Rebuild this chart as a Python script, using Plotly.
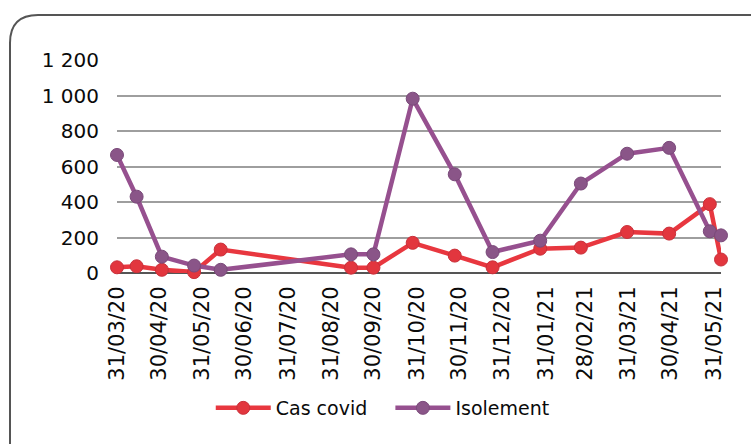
import plotly.graph_objects as go

# ---- data ----
dates = ["2020-03-31", "2020-04-14", "2020-05-02", "2020-05-25", "2020-06-13",
         "2020-09-14", "2020-09-30", "2020-10-28", "2020-11-27", "2020-12-24",
         "2021-01-27", "2021-02-25", "2021-03-30", "2021-04-29", "2021-05-28",
         "2021-06-05"]
cas_covid = [32, 38, 18, 5, 132, 30, 30, 170, 98, 32, 137, 143, 231, 222, 388, 76]
isolement = [665, 430, 92, 42, 18, 105, 105, 982, 556, 118, 182, 504, 672, 705, 235, 212]

tick_dates = ["2020-03-31", "2020-04-30", "2020-05-31", "2020-06-30", "2020-07-31",
              "2020-08-31", "2020-09-30", "2020-10-31", "2020-11-30", "2020-12-31",
              "2021-01-31", "2021-02-28", "2021-03-31", "2021-04-30", "2021-05-31"]
tick_labels = ["31/03/20", "30/04/20", "31/05/20", "30/06/20", "31/07/20",
               "31/08/20", "30/09/20", "31/10/20", "30/11/20", "31/12/20",
               "31/01/21", "28/02/21", "31/03/21", "30/04/21", "31/05/21"]
y_ticks = [0, 200, 400, 600, 800, 1000, 1200]
y_labels = ["0", "200", "400", "600", "800", "1 000", "1 200"]

# ---- layout geometry (pixels) ----
W, H = 751, 444
L, R, T, B = 117, 30, 60, 171
pw, ph = W - L - R, H - T - B


def px(x):
    return (x - L) / pw


def py(y):
    return (H - B - y) / ph


fig = go.Figure()
fig.add_trace(go.Scatter(
    x=dates, y=cas_covid, name="Cas covid\u00a0\u00a0\u00a0", mode="lines+markers",
    line=dict(color="#E8373F", width=4.5),
    marker=dict(color="#E2363E", size=13, line=dict(color="#C9303A", width=1)),
    cliponaxis=False,
))
fig.add_trace(go.Scatter(
    x=dates, y=isolement, name="Isolement", mode="lines+markers",
    line=dict(color="#96508F", width=4.5),
    marker=dict(color="#8A5588", size=13, line=dict(color="#7A4A7A", width=1)),
    cliponaxis=False,
))

r = 28
frame = (f"M {px(10)},{py(460)} L {px(10)},{py(15 + r)} "
         f"Q {px(10)},{py(15)} {px(10 + r)},{py(15)} L {px(780)},{py(15)}")

fig.update_layout(
    width=W, height=H,
    margin=dict(l=L, r=R, t=T, b=B),
    paper_bgcolor="white", plot_bgcolor="white",
    font=dict(family="DejaVu Sans", color="#0A0A0A"),
    showlegend=True,
    legend=dict(orientation="h", x=0.44, xanchor="center", y=py(408), yanchor="middle",
                font=dict(size=19, color="#0A0A0A"), itemwidth=55,
                bgcolor="rgba(0,0,0,0)"),
    xaxis=dict(type="date", range=["2020-03-31", "2021-06-05"],
               tickvals=tick_dates, ticktext=tick_labels, tickangle=-90,
               tickfont=dict(size=21), showgrid=False, zeroline=False,
               showline=False, ticks="outside", ticklen=4, tickcolor="rgba(0,0,0,0)"),
    yaxis=dict(range=[0, 1200], tickvals=y_ticks, ticktext=y_labels,
               tickfont=dict(size=20), showgrid=True, gridcolor="#9E9E9E", gridwidth=2,
               zeroline=True, zerolinecolor="#555555", zerolinewidth=2,
               showline=False, ticks="outside", ticklen=13, tickcolor="rgba(0,0,0,0)"),
    shapes=[dict(type="path", xref="paper", yref="paper", path=frame,
                 line=dict(color="#555555", width=2), layer="below")],
)

fig.write_html("out.html", config={"displayModeBar": False},
               post_script="document.body.style.margin='0';")
